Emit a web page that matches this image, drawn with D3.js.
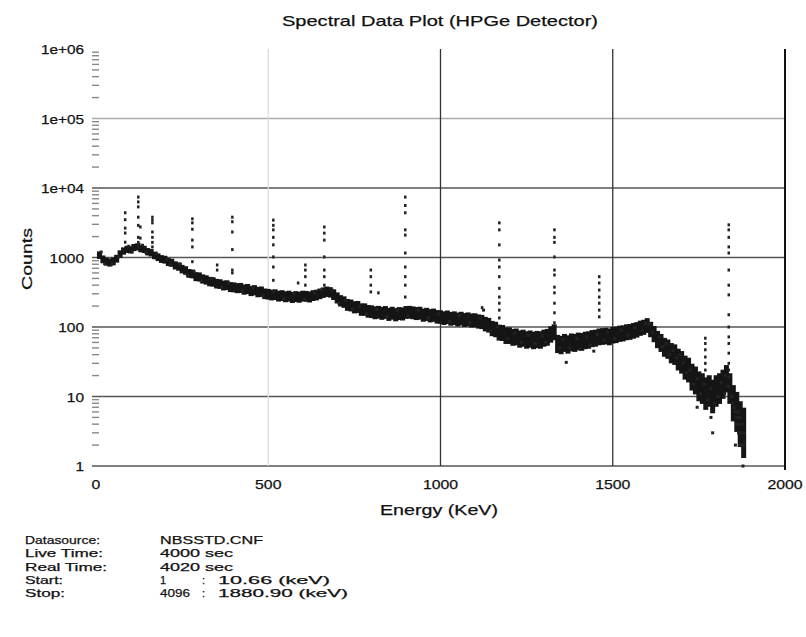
<!DOCTYPE html>
<html>
<head>
<meta charset="utf-8">
<script src="https://cdn.jsdelivr.net/npm/d3@7"></script>
<style>
  body { margin: 0; background: #fff; }
  text { font-family: "Liberation Sans", Arial, sans-serif; fill: #111; stroke: #111; stroke-width: 0.25px; }
</style>
</head>
<body>
<div id="chart"></div>
<script>
// continuum counts, one value per 10 keV from 10 keV to 1880 keV
const cont_start = 10;
const cont_step = 10;
const cont_counts = [
  1080, 940, 870, 845, 880, 960, 1120, 1240, 1310, 1290,
  1390, 1420, 1340, 1310, 1210, 1170, 1070, 1010, 950, 930,
  860, 840, 770, 740, 680, 650, 590, 580, 530, 525,
  490, 475, 450, 445, 420, 415, 395, 400, 375, 372,
  362, 365, 345, 352, 330, 338, 318, 322, 300, 296,
  288, 292, 278, 283, 272, 278, 266, 274, 268, 278,
  276, 270, 283, 288, 300, 312, 322, 315, 292, 262,
  238, 228, 208, 204, 192, 194, 178, 178, 168, 166,
  160, 163, 157, 162, 152, 158, 150, 156, 154, 162,
  163, 160, 156, 158, 148, 152, 145, 148, 140, 139,
  134, 138, 131, 134, 128, 132, 126, 129, 124, 125,
  120, 118, 110, 106, 95, 92, 83, 82, 75, 75,
  71, 72, 67, 69, 65, 67, 64, 66, 65, 69,
  71, 78, 84, 57, 55, 59, 56, 60, 59, 62,
  61, 64, 65, 68, 69, 72, 73, 74, 72, 76,
  77, 80, 81, 84, 85, 88, 91, 96, 99, 105,
  92, 79, 66, 59, 51, 48, 42, 40, 34, 31,
  26, 24, 19, 17, 14, 13, 11, 12, 10, 12,
  13, 15, 18, 13, 8, 6, 4, 3
];

// scattered channels around the continuum [energy keV, counts]
const scatter_points = [
  [15, 1200], [25, 820], [45, 800], [65, 1020], [95, 1450], [105, 1200], [125, 1550],
  [135, 1500], [145, 1180], [175, 1150], [205, 950], [215, 780], [245, 800], [265, 560],
  [285, 620], [305, 460], [335, 500], [365, 370], [385, 430], [425, 330], [455, 370],
  [485, 280], [515, 320], [545, 255], [575, 300], [605, 250], [635, 310], [655, 340],
  [685, 340], [705, 220], [725, 240], [745, 180], [765, 200], [785, 155], [815, 180],
  [845, 142], [875, 175], [905, 145], [935, 175], [965, 135], [995, 155], [1025, 120],
  [1055, 145], [1085, 115], [1115, 135], [1125, 175], [1145, 88], [1165, 100], [1195, 68],
  [1215, 82], [1235, 60], [1255, 76], [1275, 58], [1295, 74], [1305, 60], [1345, 50],
  [1355, 66], [1365, 31], [1375, 50], [1395, 68], [1405, 48], [1425, 72], [1435, 55],
  [1445, 45], [1455, 78], [1475, 64], [1485, 84], [1505, 68], [1525, 90], [1545, 76],
  [1565, 98], [1585, 88], [1595, 112], [1605, 110], [1615, 84], [1635, 72], [1645, 52],
  [1655, 58], [1665, 40], [1675, 46], [1685, 36], [1695, 40], [1705, 30], [1715, 22],
  [1725, 24], [1735, 15], [1745, 7], [1745, 18], [1755, 11], [1765, 15], [1775, 9],
  [1785, 5], [1785, 13], [1790, 3], [1795, 8], [1805, 10], [1815, 16], [1825, 20],
  [1825, 11], [1835, 14], [1845, 10], [1848, 8], [1852, 7], [1855, 6], [1858, 5],
  [1860, 4], [1862, 5], [1865, 3], [1866, 4], [1868, 2], [1870, 5], [1872, 3],
  [1874, 2], [1876, 4], [1878, 1], [1880, 2], [1882, 3], [1856, 2], [1864, 6]
];

// photopeak columns: energy (keV) and counts of the channels in the peak
const peak_energies = [84, 122, 128, 163, 279, 351, 395, 514, 586, 607, 662, 797, 819, 897, 1120, 1170, 1330, 1460, 1768, 1836];
const peak_counts = [
  [4400, 3500, 2650, 2250, 1660],
  [7400, 6300, 5350, 3800, 2900, 1950, 1650, 1420],
  [2750, 1900],
  [3800, 3450, 3150, 2330, 1950, 1650, 1420],
  [3600, 3150, 2550, 1780, 1420, 870],
  [780, 660],
  [3800, 3270, 2330, 1300, 660, 600],
  [3450, 2900, 2500, 1950, 1520, 1020, 730, 470],
  [430],
  [780, 660, 530, 400],
  [2750, 2240, 1780, 1020, 660, 530, 400],
  [660, 530, 400, 320],
  [310],
  [7400, 5600, 4400, 2500, 2100, 1160, 730, 530, 400, 270],
  [190],
  [3150, 2500, 1520, 920, 730, 530, 360, 270, 220, 175, 135],
  [2500, 1950, 1650, 1020, 660, 560, 375, 310, 220, 160, 115],
  [530, 430, 340, 270, 220, 175, 140],
  [69, 58, 47, 37, 30, 24],
  [2950, 2500, 1950, 1420, 1160, 660, 400, 290, 150, 100, 72, 58, 42, 30, 24, 19]
];

const x_ticks = [0, 500, 1000, 1500, 2000];
const y_ticks = [1, 10, 100, 1000, 1e4, 1e5, 1e6];
const y_tick_labels = ["1", "10", "100", "1000", "1e+04", "1e+05", "1e+06"];

const info_labels = ["Datasource:", "Live Time:", "Real Time:", "Start:", "Stop:"];
const info_values = ["NBSSTD.CNF", "4000 sec", "4020 sec", "1", "4096"];
const info_energy = ["", "", "", "10.66 (keV)", "1880.90 (keV)"];

// widths of the scanned text, in pixels (0 = natural width)
const info_label_w = [75, 78, 82, 38, 40];
const info_value_w = [103, 73, 73, 0, 30];
const info_energy_w = [0, 0, 0, 112, 130];

// text squeezed or stretched to a given width
function AddText(parent, x, y, str, size, len, anchor) {
  const t = parent.append("text")
    .attr("x", x)
    .attr("y", y)
    .attr("text-anchor", anchor || "start")
    .style("font-size", size + "px")
    .text(str);
  if (len) t.attr("textLength", len).attr("lengthAdjust", "spacingAndGlyphs");
  return t;
}

function PlotSpectrum(parent_element) {
  const width = 806, height = 637;
  const plot = {left: 96, right: 785, top: 49, bottom: 466};

  const svg = d3.select("#" + parent_element)
    .append("svg")
      .attr("width", width)
      .attr("height", height);

  const x = d3.scaleLinear().domain([0, 2000]).range([plot.left, plot.right]);
  const y = d3.scaleLog().domain([1, 1e6]).range([plot.bottom, plot.top]);

  // minor ticks on the log axis
  const minor = [];
  for (let d = 0; d < 6; d++) {
    for (let k = 2; k <= 9; k++) minor.push(k * Math.pow(10, d));
  }
  svg.append("g").selectAll("line")
    .data(minor)
    .enter().append("line")
      .attr("x1", plot.left - 4).attr("x2", plot.left + 3)
      .attr("y1", d => y(d)).attr("y2", d => y(d))
      .attr("stroke", "#888").attr("stroke-width", 1.4);

  // horizontal grid
  svg.append("g").selectAll("line")
    .data(y_ticks.filter(d => d < 1e6))
    .enter().append("line")
      .attr("x1", plot.left - 4).attr("x2", plot.right)
      .attr("y1", d => y(d)).attr("y2", d => y(d))
      .attr("stroke", d => d === 1e5 ? "#aaa" : "#555")
      .attr("stroke-width", 1.3);

  // vertical grid
  svg.append("g").selectAll("line")
    .data(x_ticks.filter(d => d > 0))
    .enter().append("line")
      .attr("x1", d => x(d)).attr("x2", d => x(d))
      .attr("y1", plot.top).attr("y2", d => d === 2000 ? plot.bottom + 4 : plot.bottom)
      .attr("stroke", d => d === 500 ? "#ddd" : (d === 2000 ? "#111" : "#333"))
      .attr("stroke-width", d => d === 2000 ? 2 : 1.3);

  // tick labels, wide like the scan
  const ylab = svg.append("g");
  y_ticks.forEach((d, i) => {
    const s = y_tick_labels[i];
    AddText(ylab, plot.left - 12, y(d) + 5, s, 13.5, s.length * 8.6, "end");
  });
  const xlab = svg.append("g");
  x_ticks.forEach(d => {
    const s = String(d);
    AddText(xlab, x(d), plot.bottom + 23, s, 13.5, s.length * 8.8, "middle");
  });

  // continuum band; thickness follows the counting spread
  svg.append("g").selectAll("rect")
    .data(cont_counts)
    .enter().append("rect")
      .attr("x", (d, i) => x(cont_start + i * cont_step) - 2.5)
      .attr("y", d => y(d * (1 + 2 / Math.sqrt(d))) - 2)
      .attr("width", 5)
      .attr("height", d => y(d / (1 + 2 / Math.sqrt(d))) - y(d * (1 + 2 / Math.sqrt(d))) + 4)
      .attr("fill", "#151515");

  svg.append("g").selectAll("rect")
    .data(scatter_points)
    .enter().append("rect")
      .attr("x", d => x(d[0]) - 1.5)
      .attr("y", d => y(d[1]) - 1.5)
      .attr("width", 3)
      .attr("height", 3)
      .attr("fill", "#222");

  // peaks
  const peak_dots = [];
  peak_energies.forEach((e, i) => {
    peak_counts[i].forEach(c => peak_dots.push([e, c]));
  });
  svg.append("g").selectAll("rect")
    .data(peak_dots)
    .enter().append("rect")
      .attr("x", d => x(d[0]) - 1)
      .attr("y", d => y(d[1]) - 1.5)
      .attr("width", 2.5)
      .attr("height", 3)
      .attr("fill", "#222");

  // titles
  AddText(svg, 440, 26, "Spectral Data Plot (HPGe Detector)", 15, 316, "middle");

  const ylab_title = svg.append("g").attr("transform", "translate(32,259) rotate(-90)");
  AddText(ylab_title, 0, 0, "Counts", 15, 62, "middle");

  AddText(svg, 439, 515, "Energy (KeV)", 14.5, 118, "middle");

  // acquisition info
  const info = svg.append("g");
  info_labels.forEach((t, i) => {
    const ty = 544 + i * 13.3;
    AddText(info, 25, ty, t, 11, info_label_w[i]);
    AddText(info, 160, ty, info_values[i], 11, info_value_w[i]);
    if (info_energy[i]) {
      AddText(info, 202, ty, ":", 11);
      AddText(info, 218, ty, info_energy[i], 11, info_energy_w[i]);
    }
  });
}

document.addEventListener('DOMContentLoaded', (event) => {
  PlotSpectrum("chart");
});
</script>
</body>
</html>
